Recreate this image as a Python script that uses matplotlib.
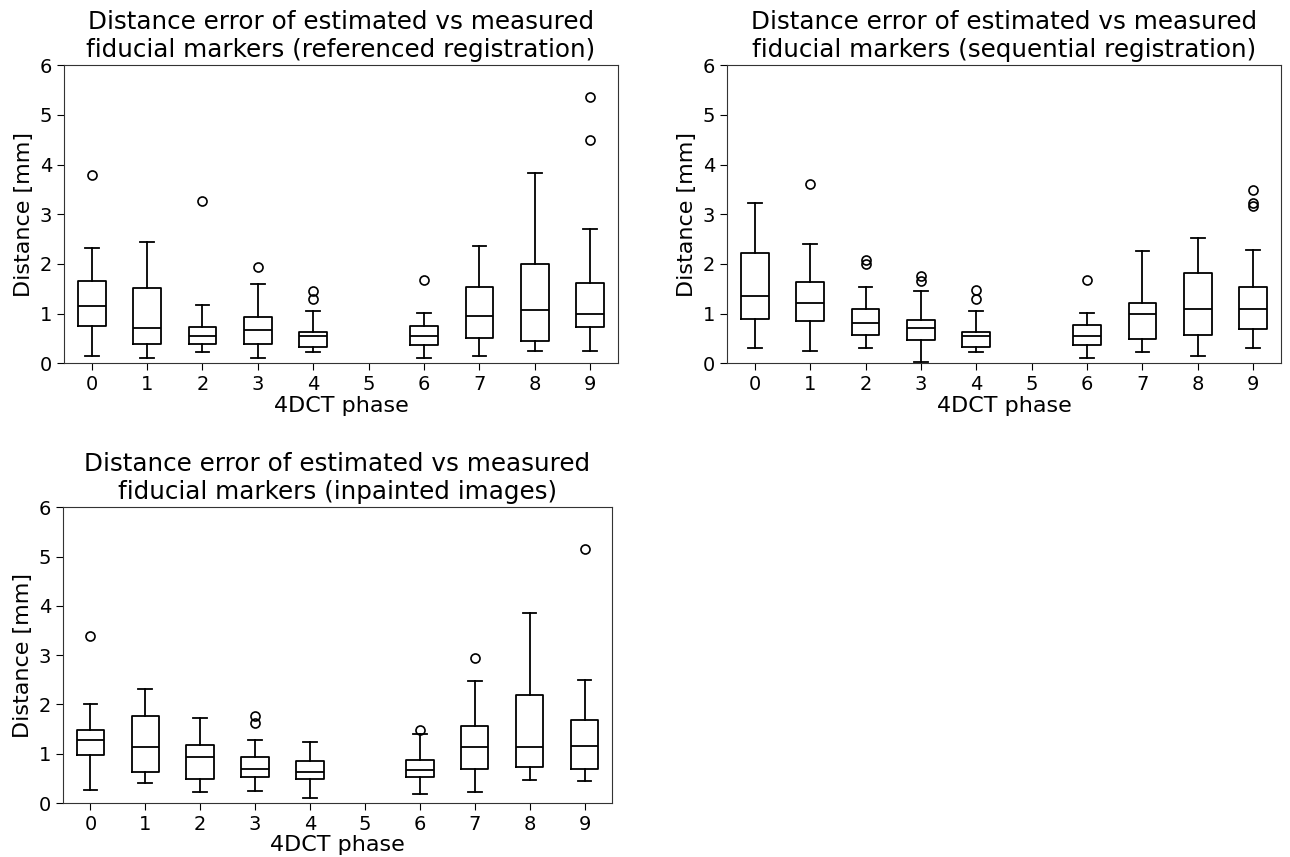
import matplotlib.pyplot as plt

phases = [0, 1, 2, 3, 4, 6, 7, 8, 9]
tick_labels = [str(i) for i in range(10)]

# each list: one value per phase in `phases`
ref_low = [0.14, 0.11, 0.22, 0.11, 0.22, 0.11, 0.14, 0.25, 0.25]
ref_q1 = [0.76, 0.385, 0.385, 0.385, 0.33, 0.36, 0.52, 0.44, 0.74]
ref_med = [1.16, 0.72, 0.555, 0.67, 0.555, 0.555, 0.96, 1.08, 0.99]
ref_q3 = [1.655, 1.51, 0.74, 0.94, 0.63, 0.76, 1.54, 1.99, 1.62]
ref_high = [2.32, 2.45, 1.18, 1.59, 1.05, 1.01, 2.37, 3.83, 2.70]
ref_out = [[3.78], [], [3.26], [1.93], [1.46, 1.30], [1.68], [], [], [5.35, 4.49]]

seq_low = [0.30, 0.25, 0.30, 0.02, 0.22, 0.11, 0.22, 0.14, 0.30]
seq_q1 = [0.885, 0.85, 0.575, 0.47, 0.33, 0.36, 0.49, 0.575, 0.69]
seq_med = [1.35, 1.21, 0.82, 0.72, 0.555, 0.555, 0.99, 1.10, 1.10]
seq_q3 = [2.23, 1.63, 1.10, 0.88, 0.635, 0.77, 1.22, 1.82, 1.54]
seq_high = [3.22, 2.41, 1.54, 1.46, 1.05, 1.01, 2.26, 2.53, 2.28]
seq_out = [[], [3.61], [2.08, 1.99], [1.76, 1.65], [1.47, 1.30], [1.68], [], [],
           [3.48, 3.22, 3.16]]

inp_low = [0.27, 0.405, 0.22, 0.24, 0.11, 0.19, 0.22, 0.47, 0.44]
inp_q1 = [0.98, 0.62, 0.49, 0.52, 0.49, 0.52, 0.69, 0.74, 0.69]
inp_med = [1.27, 1.13, 0.94, 0.69, 0.635, 0.66, 1.13, 1.13, 1.16]
inp_q3 = [1.49, 1.76, 1.18, 0.93, 0.85, 0.88, 1.56, 2.20, 1.68]
inp_high = [2.01, 2.31, 1.73, 1.27, 1.24, 1.41, 2.48, 3.86, 2.50]
inp_out = [[3.39], [], [], [1.76, 1.62], [], [1.49], [2.95], [], [5.16]]

titles = ["Distance error of estimated vs measured\nfiducial markers (referenced registration)",
          "Distance error of estimated vs measured\nfiducial markers (sequential registration)",
          "Distance error of estimated vs measured\nfiducial markers (inpainted images)"]


def make_stats(low, q1, med, q3, high, out):
    stats = []
    for i in range(len(low)):
        stats.append({'whislo': low[i], 'q1': q1[i], 'med': med[i],
                      'q3': q3[i], 'whishi': high[i], 'fliers': out[i]})
    return stats


all_stats = [make_stats(ref_low, ref_q1, ref_med, ref_q3, ref_high, ref_out),
             make_stats(seq_low, seq_q1, seq_med, seq_q3, seq_high, seq_out),
             make_stats(inp_low, inp_q1, inp_med, inp_q3, inp_high, inp_out)]

fig = plt.figure(figsize=(12.9, 8.57), dpi=100)
rects = [[0.0496, 0.576, 0.4294, 0.348],
         [0.5636, 0.576, 0.4294, 0.348],
         [0.0488, 0.063, 0.4256, 0.345]]

lw = 1.3
for k in range(3):
    ax = fig.add_axes(rects[k])
    ax.bxp(all_stats[k], positions=phases, widths=0.5,
           boxprops=dict(color='black', linewidth=lw),
           whiskerprops=dict(color='black', linewidth=lw),
           capprops=dict(color='black', linewidth=lw),
           medianprops=dict(color='black', linewidth=lw),
           flierprops=dict(marker='o', markerfacecolor='none',
                           markeredgecolor='black', markersize=6.5, markeredgewidth=1.2))
    ax.set_xlim(-0.5, 9.5)
    ax.set_ylim(0, 6)
    ax.set_xticks(range(10))
    ax.set_xticklabels(tick_labels)
    ax.set_yticks(range(7))
    ax.tick_params(labelsize=14, length=5)
    ax.set_title(titles[k], fontsize=17.7, pad=6)
    ax.set_xlabel("4DCT phase", fontsize=16, labelpad=1)
    ax.set_ylabel("Distance [mm]", fontsize=16, labelpad=4)
    for s in ax.spines.values():
        s.set_color('#333333')

fig.savefig("out.png", dpi=100)
